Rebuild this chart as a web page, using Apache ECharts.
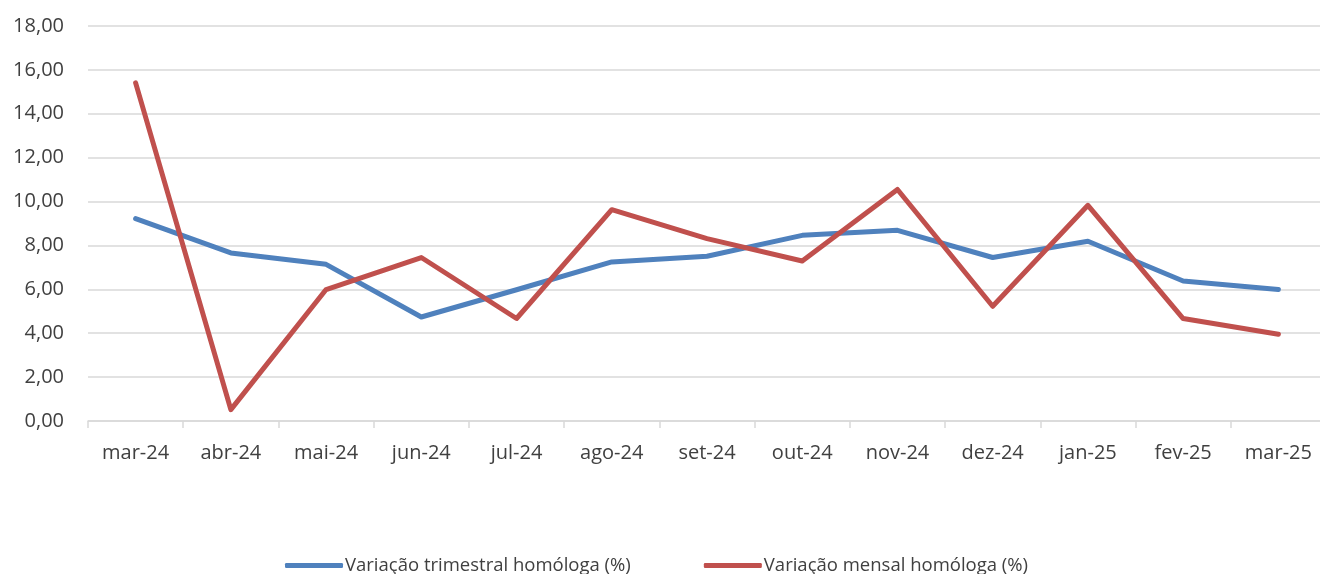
<!DOCTYPE html>
<html>
<head>
<meta charset="utf-8">
<script src="https://cdn.jsdelivr.net/npm/echarts@6/dist/echarts.min.js"></script>
<style>
html,body{margin:0;padding:0;background:#fff;overflow:hidden;width:1320px;height:574px;}
#chart{width:1326px;height:574px;}
</style>
</head>
<body>
<div id="chart"></div>
<script>
const categories = ['mar-24','abr-24','mai-24','jun-24','jul-24','ago-24','set-24','out-24','nov-24','dez-24','jan-25','fev-25','mar-25'];
const trimestral = [9.22, 7.66, 7.14, 4.74, 5.98, 7.25, 7.51, 8.46, 8.69, 7.45, 8.19, 6.38, 5.99];
const mensal = [15.41, 0.52, 5.99, 7.45, 4.67, 9.63, 8.31, 7.29, 10.55, 5.23, 9.83, 4.67, 3.95];
const seriesNames = ['Variação trimestral homóloga (%)', 'Variação mensal homóloga (%)'];

const chart = echarts.init(document.getElementById('chart'), null, {renderer: 'canvas'});
const FONT = '"Open Sans", sans-serif';
chart.setOption({
  animation: false,
  backgroundColor: '#ffffff',
  grid: {left: 88, top: 26, right: 0, bottom: 153, containLabel: false},
  legend: {
    data: seriesNames,
    left: 285,
    top: 556,
    icon: 'roundRect',
    itemWidth: 58,
    itemHeight: 5,
    itemGap: 73,
    textStyle: {fontFamily: FONT, fontSize: 18.5, color: '#404040', padding: [0,0,0,-3]},
    padding: 0
  },
  xAxis: {
    type: 'category',
    data: categories,
    boundaryGap: true,
    axisLine: {lineStyle: {color: '#d9d9d9', width: 1.5}},
    axisTick: {show: true, length: 7, lineStyle: {color: '#d9d9d9', width: 1.5}},
    axisLabel: {fontFamily: FONT, fontSize: 20, color: '#404040', margin: 22, interval: 0}
  },
  yAxis: {
    type: 'value',
    min: 0, max: 18, interval: 2,
    axisLine: {show: false},
    axisTick: {show: false},
    splitLine: {lineStyle: {color: '#d9d9d9', width: 1.5}},
    axisLabel: {
      fontFamily: FONT, fontSize: 20, color: '#404040', margin: 24,
      formatter: v => v.toFixed(2).replace('.', ',')
    }
  },
  series: [
    {name: seriesNames[0], type: 'line', data: trimestral, symbol: 'none',
     lineStyle: {color: '#4f81bd', width: 5, cap: 'round', join: 'round'}, itemStyle: {color: '#4f81bd'}},
    {name: seriesNames[1], type: 'line', data: mensal, symbol: 'none',
     lineStyle: {color: '#c0504d', width: 5, cap: 'round', join: 'round'}, itemStyle: {color: '#c0504d'}}
  ]
});
</script>
</body>
</html>
